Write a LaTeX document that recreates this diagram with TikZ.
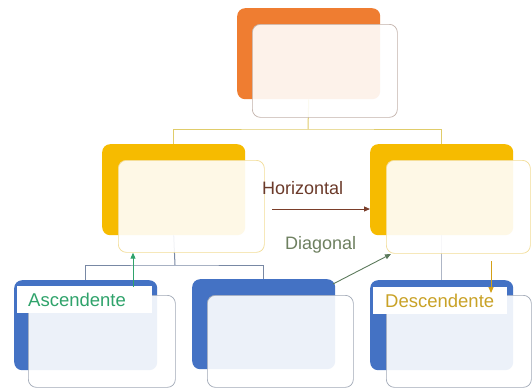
\documentclass[tikz,border=0pt]{standalone}
\usepackage{fontspec}
\setmainfont{Liberation Sans}
\usetikzlibrary{arrows.meta}
\definecolor{cOrange}{HTML}{EF7D31}
\definecolor{cYellow}{HTML}{F6BB00}
\definecolor{cBlue}{HTML}{4472C4}
\definecolor{edTop}{HTML}{C2B2AA}
\definecolor{edYel}{HTML}{F2DC96}
\definecolor{edBlu}{HTML}{A0A8B6}
\definecolor{lnYel}{HTML}{E0CC6A}
\definecolor{lnBlu}{HTML}{7888A4}
\definecolor{lnGry}{HTML}{AEB6C6}
\definecolor{tHor}{HTML}{6B3A2A}
\definecolor{aHor}{HTML}{7A3E2A}
\definecolor{tDia}{HTML}{6E8060}
\definecolor{aDia}{HTML}{5C7A5C}
\definecolor{tAsc}{HTML}{2FA36B}
\definecolor{tDes}{HTML}{C9A227}
\definecolor{aDes}{HTML}{D4A017}
\tikzset{
  backbox/.style={rectangle, rounded corners=8pt, inner sep=0pt, anchor=north west,
    minimum width=143pt, minimum height=91pt},
  frontbox/.style={rectangle, rounded corners=8pt, inner sep=0pt, anchor=north west,
    minimum width=146pt, minimum height=92pt, fill=white, fill opacity=0.9,
    draw opacity=1, line width=0.7pt},
  conn/.style={line width=1pt},
  tagbox/.style={rectangle, fill=white, inner ysep=0pt, anchor=north west,
    minimum height=27pt, align=left,
    font=\fontsize{18.5}{20}\selectfont},
  lbl/.style={font=\fontsize{18}{20}\selectfont, inner sep=0pt},
  tip/.style={-{Triangle[width=5pt,length=6pt]}, line width=1pt},
}
\begin{document}
\begin{tikzpicture}[x=1pt,y=-1pt]
\useasboundingbox (0,0) rectangle (532,391);
\fill[white] (0,0) rectangle (532,391);

% back boxes
\node[backbox, fill=cOrange] (topB) at (237,8) {};
\node[backbox, fill=cYellow] (lyB) at (102,144) {};
\node[backbox, fill=cYellow] (ryB) at (370,144) {};
\node[backbox, fill=cBlue, minimum height=90pt] (lbB) at (14,280) {};
\node[backbox, fill=cBlue, minimum height=90pt] (mbB) at (192,279) {};
\node[backbox, fill=cBlue, minimum height=90pt] (rbB) at (370,280) {};

% junction points of the tree connectors
\coordinate (jTop) at (308,129);
\coordinate (jLow) at (175,265);

% tree connectors (behind the front cards)
\draw[conn, lnYel] (topB.south) -- (jTop);
\draw[conn, lnYel] (lyB.north) |- (jTop) -| (ryB.north);
\draw[conn, lnBlu] (lyB.south) -- (jLow);
\draw[conn, lnBlu] (lbB.north) |- (jLow) -| (mbB.north);
\draw[conn, lnGry] (ryB.south) -- (rbB.north);

% front cards
\node[frontbox, draw=edTop, minimum width=145pt, minimum height=93pt] (topF) at (252,24) {};
\node[frontbox, draw=edYel] (lyF) at (118,160) {};
\node[frontbox, draw=edYel, minimum width=144pt, minimum height=93pt] (ryF) at (386,160) {};
\node[frontbox, draw=edBlu, minimum width=147pt] (lbF) at (28,295) {};
\node[frontbox, draw=edBlu] (mbF) at (207,295) {};
\node[frontbox, draw=edBlu, minimum width=145pt] (rbF) at (386,295) {};

% tags on the lower cards
\node[tagbox, text=tAsc, inner xsep=11pt, text width=113pt] (asc) at (17,286) {Ascendente};
\node[tagbox, text=tDes, inner xsep=12pt, text width=110pt] (desc) at (373,287) {Descendente};

% horizontal link
\coordinate (hS) at (272,209);
\node[lbl, text=tHor, anchor=south west] (hor) at (262,195) {Horizontal};
\draw[tip, aHor] (hS) -- (hS -| ryB.west);

% diagonal link
\node[lbl, text=tDia, anchor=south west] (dia) at (285,253) {Diagonal};
\coordinate (dS) at (333,284);
\coordinate (dE) at (391,254);
\draw[tip, aDia, line width=0.9pt] (dS) -- (dE);

% ascending link
\coordinate (aS) at (133,287);
\draw[tip, tAsc] (aS) -- (aS |- lyF.south);

% descending link
\coordinate (dsS) at (491,261);
\coordinate (dsE) at (491,293);
\draw[tip, aDes] (dsS) -- (dsE);
\end{tikzpicture}
\end{document}
